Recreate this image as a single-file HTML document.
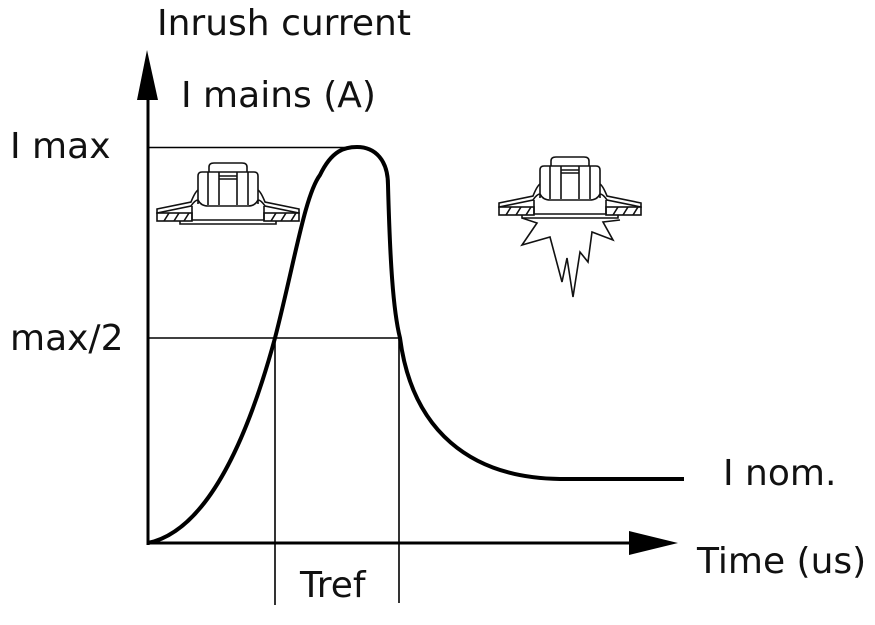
<!DOCTYPE html>
<html><head><meta charset="utf-8"><style>
html,body{margin:0;padding:0;background:#fff;}
svg{display:block;}
text{font-family:"DejaVu Sans","Liberation Sans",sans-serif;font-size:36px;fill:#111;}
</style></head><body>
<svg width="875" height="625" viewBox="0 0 875 625" xmlns="http://www.w3.org/2000/svg">
<defs>
<g id="lamp" fill="none" stroke="#111" stroke-width="1.6">
  <path d="M-19,10 L-19,5 Q-19,1 -14,1 L14,1 Q19,1 19,5 L19,10"/>
  <path d="M-30,42 L-30,14 Q-30,10 -26,10 L26,10 Q30,10 30,14 L30,42"/>
  <path d="M-20,10 L-20,43 M20,10 L20,43 M-9,10 L-9,43 M9,10 L9,43 M-9,14 L9,14 M-9,17 L9,17"/>
  <path d="M-30,28 Q-33,30 -37,40 L-71,47 L-71,51 L-37,44 Q-33,38 -30,38"/>
  <path d="M30,28 Q33,30 37,40 L71,47 L71,51 L37,44 Q33,38 30,38"/>
  <path d="M-30,38 Q-27,44 -20,44 L20,44 Q27,44 30,38"/>
  <path d="M-36,44 L-36,58 L36,58 L36,44"/>
  <rect x="-71" y="51" width="35" height="8"/>
  <rect x="36" y="51" width="35" height="8"/>
  <path d="M-64,59 L-59,51 M-54,59 L-49,51 M-44,59 L-39,51 M43,59 L48,51 M53,59 L58,51 M63,59 L68,51"/>
  <path d="M-48,59 L-48,62 L48,62 L48,59"/>
</g>
</defs>
<line x1="148" y1="545" x2="148" y2="95" stroke="#000" stroke-width="3"/>
<polygon points="147,50 137,100 158,100" fill="#000"/>
<line x1="148" y1="543" x2="632" y2="543" stroke="#000" stroke-width="3"/>
<polygon points="678,543 629,531 629,555" fill="#000"/>
<line x1="148" y1="147.5" x2="357" y2="147.5" stroke="#000" stroke-width="1.6"/>
<line x1="148" y1="338" x2="400" y2="338" stroke="#000" stroke-width="1.6"/>
<line x1="275" y1="338" x2="275" y2="605" stroke="#000" stroke-width="1.6"/>
<line x1="399" y1="338" x2="399" y2="603" stroke="#000" stroke-width="1.6"/>
<path d="M148,543 C210,530 250,430 275,338 C295,260 305,195 320,175 C332,150 345,147 357,147 C375,147 388,160 388,185 C390,260 393,310 400,338 C412,430 470,478 560,479 L684,479" fill="none" stroke="#000" stroke-width="4"/>
<use href="#lamp" transform="translate(228,162)"/>
<use href="#lamp" transform="translate(570,156)"/>
<path d="M522,218 L537,223 L522,245 L550,237 L562,282 L567,258 L573,297 L580,252 L588,262 L592,232 L613,240 L603,222 L620,220" fill="none" stroke="#111" stroke-width="1.6"/>
<text x="157" y="35">Inrush current</text>
<text x="181" y="107">I mains (A)</text>
<text x="10" y="158">I max</text>
<text x="10" y="350">max/2</text>
<text x="723" y="485">I nom.</text>
<text x="697" y="573">Time (us)</text>
<text x="300" y="597">Tref</text>
</svg>
</body></html>
